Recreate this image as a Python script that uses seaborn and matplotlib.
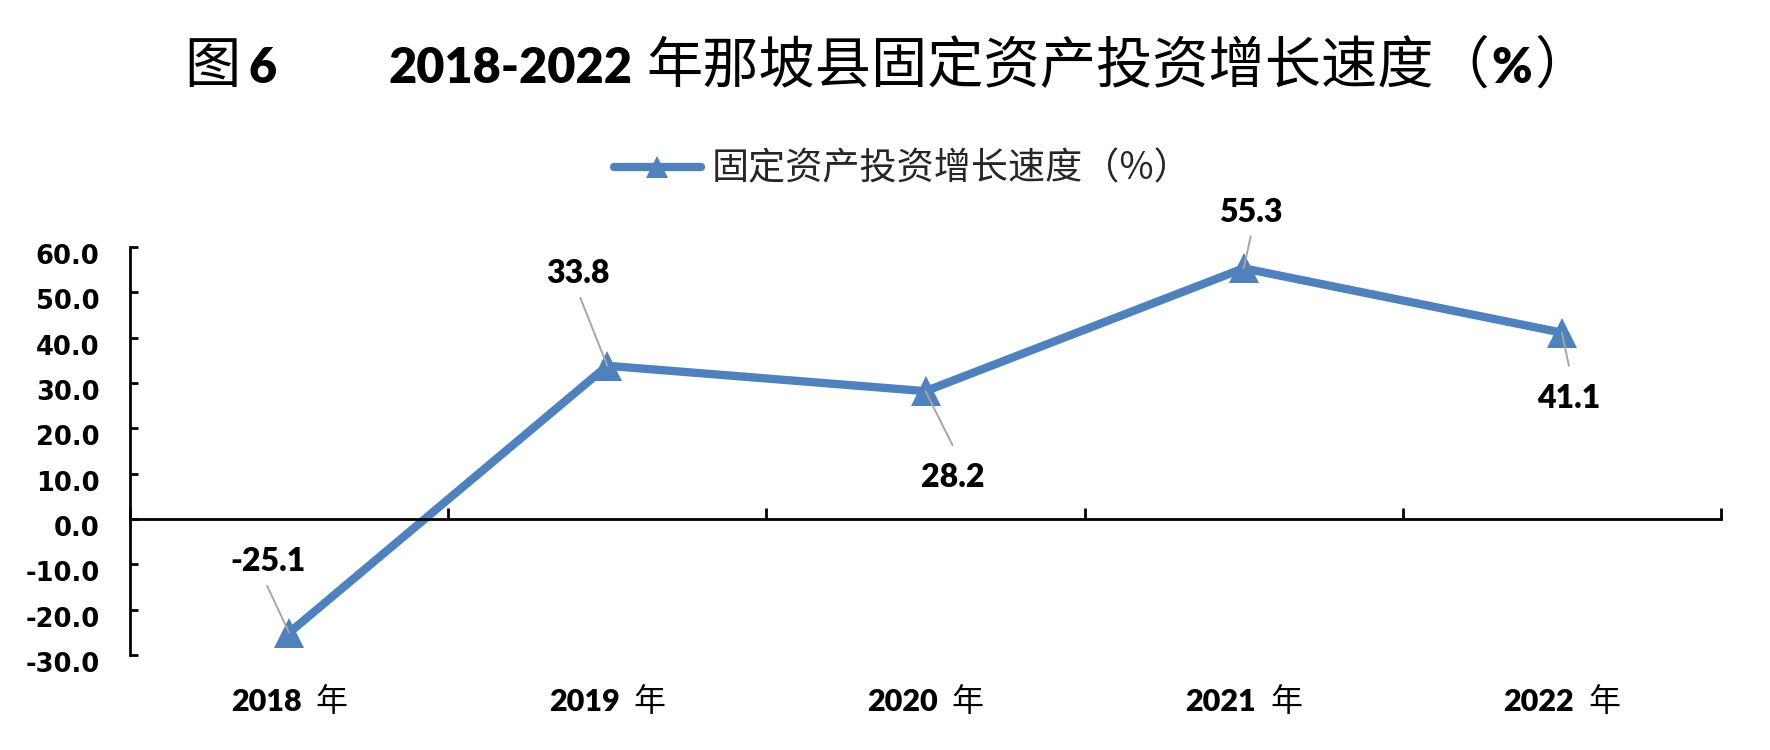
import matplotlib
matplotlib.use('Agg')
import matplotlib.pyplot as plt
import matplotlib.transforms as mtrans
from matplotlib.font_manager import FontProperties
import seaborn as sns
import pandas as pd

# Data
years = ['2018', '2019', '2020', '2021', '2022']
growth = [-25.1, 33.8, 28.2, 55.3, 41.1]
y_ticks = [-30, -20, -10, 0, 10, 20, 30, 40, 50, 60]
series_name = '固定资产投资增长速度（%）'

# label layout: (label dx, label dy, leader dx, leader dy) in pixels, dy up
label_layout = [(-21, 73, -22, 47), (-29, 94, -27, 68), (27, -84, 27, -54),
                (7, 58, 7, 32), (7, -64, 7, -33)]

W, H = 1770, 750
BLUE = '#4F81BD'
CJK = 'Noto Sans CJK SC'
NUM = 'Lato'

sns.set_theme(style='white')
plt.rcParams['font.family'] = [NUM, CJK, 'DejaVu Sans']
plt.rcParams['axes.unicode_minus'] = False

fig = plt.figure(figsize=(W / 100, H / 100), dpi=100)
ax = fig.add_axes([130 / W, 1 - 655 / H, (1721 - 130) / W, (655 - 247) / H])

df = pd.DataFrame({'pos': range(len(years)), 'growth': growth})
sns.lineplot(data=df, x='pos', y='growth', ax=ax, color=BLUE, linewidth=6,
             marker='^', markersize=21.5, markeredgewidth=0,
             label=series_name)

ax.set_xlim(-0.5, len(years) - 0.5)
ax.set_ylim(-30, 60)

# spines
for s in ['top', 'right']:
    ax.spines[s].set_visible(False)
for s in ['left', 'bottom']:
    ax.spines[s].set_color('black')
    ax.spines[s].set_linewidth(2)
ax.spines['bottom'].set_position(('data', 0))

# y ticks
ax.set_yticks(y_ticks)
ax.set_yticklabels([f'{v:.1f}' for v in y_ticks], fontfamily='DejaVu Sans',
                   fontweight='bold', fontsize=18.5, color='black')
ax.tick_params(axis='y', which='major', left=True, direction='in', length=6,
               width=2, color='black', pad=22)
shift = mtrans.ScaledTranslation(0, -0.07, fig.dpi_scale_trans)
for lbl in ax.get_yticklabels():
    lbl.set_transform(lbl.get_transform() + shift)

# x ticks: category boundaries only, labels drawn below
ax.set_xticks(range(len(years)))
ax.set_xticklabels([''] * len(years))
ax.tick_params(axis='x', which='major', length=0)
ax.set_xticks([k - 0.5 for k in range(len(years) + 1)], minor=True)
ax.tick_params(axis='x', which='minor', bottom=True, direction='in', length=8,
               width=2, color='black')
ax.set_xlabel('')
ax.set_ylabel('')
ax.grid(False)

# data labels with leader lines
label_font = FontProperties(family=NUM, weight='heavy', size=23)
for i, v in enumerate(growth):
    ldx, ldy, sdx, sdy = label_layout[i]
    ax.annotate('', xy=(i, v), xytext=(sdx, sdy), textcoords='offset pixels',
                arrowprops=dict(arrowstyle='-', color='#A6A6A6', lw=1.4,
                                shrinkA=0, shrinkB=0), zorder=4)
    off = mtrans.ScaledTranslation(ldx / 100, (ldy - 11.5) / 100,
                                   fig.dpi_scale_trans)
    ax.text(i, v, f'{v:.1f}', transform=ax.transData + off, ha='center',
            va='baseline', fontproperties=label_font, color='black', zorder=5)

# legend
leg = ax.legend(loc='center', bbox_to_anchor=(0.51, 1 - 169 / H),
                bbox_transform=fig.transFigure, frameon=False,
                handlelength=2.35, handletextpad=0.3,
                prop={'family': CJK, 'size': 26.7})
leg.legend_handles[0].set_markersize(16)

renderer = fig.canvas.get_renderer()


def chain(x_px, y_top_px, pieces):
    # pieces: (text, family, weight, size, gap before in px)
    texts = []
    x = x_px
    for txt, fam, wt, size, gap in pieces:
        x += gap
        t = fig.text(x / W, 1 - y_top_px / H, txt, ha='left', va='baseline',
                     fontproperties=FontProperties(family=fam, weight=wt, size=size),
                     color='black')
        x = t.get_window_extent(renderer).x1
        texts.append(t)
    return texts, x


# title, several pieces to mix bold digits and plain CJK
chain(184, 83, [('图', CJK, 'normal', 40.5, 0)])
chain(248, 83, [('6', NUM, 'heavy', 35, 0)])
chain(388, 83, [('2018-2022', NUM, 'heavy', 35, 0)])
chain(646, 83, [('年那坡县固定资产投资增长速度（', CJK, 'normal', 40.5, 0),
                ('%', NUM, 'heavy', 35, 2),
                ('）', CJK, 'normal', 40.5, 2)])

# category labels below the plot
for i, yr in enumerate(years):
    texts, x_end = chain(0, 711, [(yr, NUM, 'heavy', 22, 0),
                                  ('年', CJK, 'normal', 23, 14)])
    cx = ax.transData.transform((i, 0))[0]
    offset = cx - x_end / 2
    for t in texts:
        px, py = t.get_position()
        t.set_position((px + offset / W, py))

fig.savefig('out.png', dpi=100, facecolor='white')
